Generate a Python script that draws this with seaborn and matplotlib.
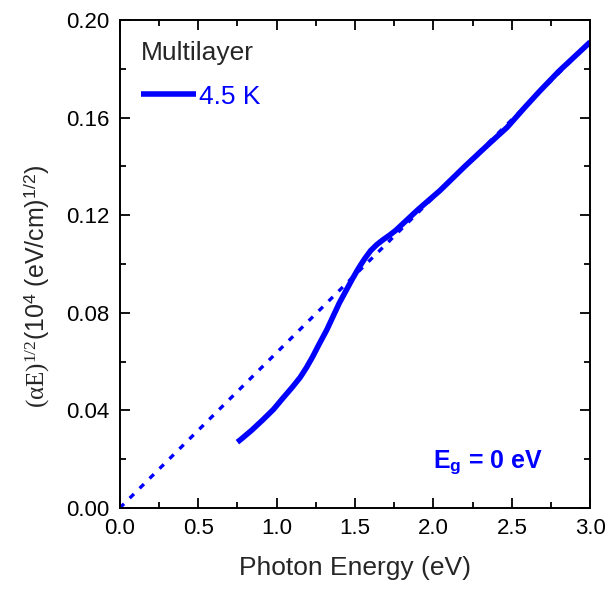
import numpy as np
import pandas as pd
import matplotlib
matplotlib.use("Agg")
import matplotlib.pyplot as plt
from matplotlib.ticker import MultipleLocator, FormatStrFormatter
import seaborn as sns

# measured curve, 4.5 K
energy = [0.75, 0.77, 0.84, 0.91, 0.98, 1.04, 1.10, 1.15, 1.19, 1.23, 1.27, 1.32, 1.40,
          1.48, 1.52, 1.56, 1.60, 1.64, 1.68, 1.72, 1.76, 1.80, 1.85, 1.90, 1.95,
          2.04, 2.20, 2.35, 2.47, 2.58, 2.68, 2.80, 2.90, 3.00]
alpha_e = [0.027, 0.028, 0.0318, 0.036, 0.0404, 0.045, 0.0495, 0.0535, 0.0575, 0.062, 0.067,
           0.073, 0.084, 0.0935, 0.098, 0.102, 0.1055, 0.108, 0.110, 0.1118, 0.1138, 0.1162,
           0.1192, 0.1222, 0.125, 0.130, 0.140, 0.149, 0.156, 0.164, 0.171, 0.179, 0.185, 0.191]

# linear extrapolation, Eg = 0
fit_energy = [0.0, 3.0]
fit_value = [0.0, 0.191]

sns.set_style("ticks")
plt.rcParams['font.family'] = ['Liberation Sans', 'DejaVu Sans']
plt.rcParams['mathtext.fontset'] = 'custom'
plt.rcParams['mathtext.rm'] = 'Liberation Serif'
plt.rcParams['mathtext.sf'] = 'Liberation Sans'
plt.rcParams['mathtext.bf'] = 'Liberation Sans:bold'
plt.rcParams['mathtext.it'] = 'Liberation Serif:italic'

fig, ax = plt.subplots(figsize=(6.11, 5.89), dpi=100)
fig.subplots_adjust(left=0.196, right=0.966, top=0.966, bottom=0.1375)

df = pd.DataFrame({"E": energy, "y": alpha_e})
fit = pd.DataFrame({"E": fit_energy, "y": fit_value})

sns.lineplot(data=fit, x="E", y="y", ax=ax, color="#0000ff", lw=2.4,
             linestyle=(0, (1.8, 2.4)))
sns.lineplot(data=df, x="E", y="y", ax=ax, color="#0000ff", lw=4.0, label="4.5 K",
             solid_joinstyle="round", solid_capstyle="butt")

ax.set_xlim(0, 3.0)
ax.set_ylim(0, 0.20)
ax.xaxis.set_major_locator(MultipleLocator(0.5))
ax.xaxis.set_minor_locator(MultipleLocator(0.25))
ax.yaxis.set_major_locator(MultipleLocator(0.04))
ax.yaxis.set_minor_locator(MultipleLocator(0.02))
ax.xaxis.set_major_formatter(FormatStrFormatter('%.1f'))
ax.yaxis.set_major_formatter(FormatStrFormatter('%.2f'))
ax.tick_params(which="both", direction="in", top=True, right=True, width=1.3,
               labelsize=16, colors="black")
ax.tick_params(which="major", length=7, pad=7.5)
ax.tick_params(which="minor", length=4)
for s in ax.spines.values():
    s.set_linewidth(1.4)
    s.set_color("black")

ax.set_xlabel("Photon Energy (eV)", fontsize=19, labelpad=12)
ax.set_ylabel(r"$(\mathrm{\alpha E})^{\mathit{1/2}}$(10$^{\mathsf{4}}$ (eV/cm)$^{\mathsf{1/2}}$)",
              fontsize=18)
ax.yaxis.set_label_coords(-0.145, 0.455)

leg = ax.legend(loc="upper left", bbox_to_anchor=(0.0, 1.0), title="Multilayer",
                frameon=False, fontsize=19, title_fontsize=19, handlelength=2.1,
                handletextpad=0.1, borderaxespad=0.5, borderpad=0.3,
                labelspacing=0.3, alignment="left")
leg._legend_box.sep = 14
for t in leg.get_texts():
    t.set_color("#0000ff")

ax.text(0.90, 0.092, r"E$_{\mathbf{g}}$ = 0 eV", transform=ax.transAxes, ha="right",
        va="center", color="#0000ff", fontsize=18, fontweight="bold")

fig.savefig("out.png", dpi=100)
